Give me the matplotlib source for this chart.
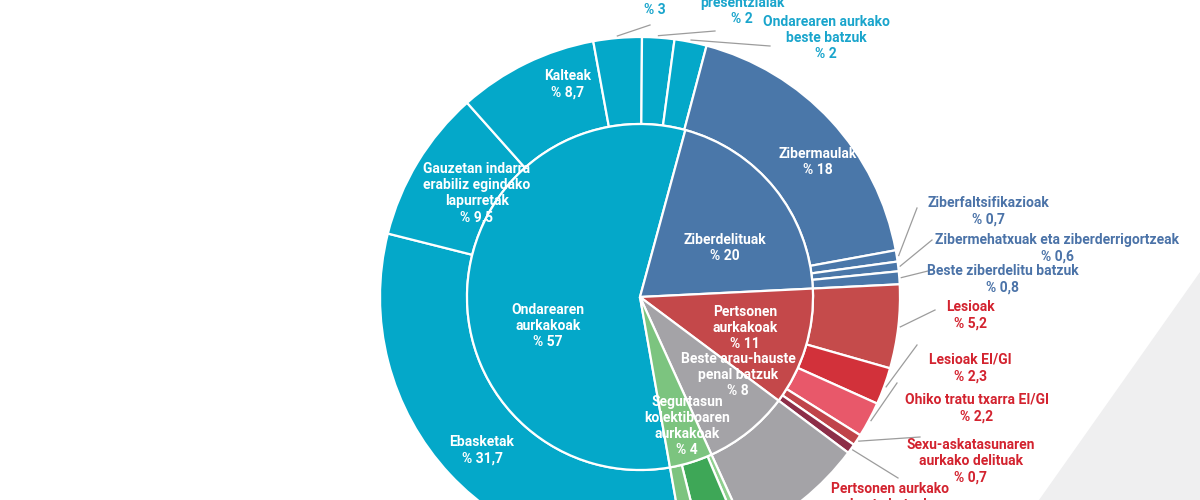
import numpy as np
import matplotlib
matplotlib.use("Agg")
import matplotlib.pyplot as plt
from matplotlib.patches import Polygon

plt.rcParams['font.family'] = ['Roboto', 'DejaVu Sans']

# inner ring (groups)
groups = ['Ondarearen\naurkakoak', 'Ziberdelituak', 'Pertsonen\naurkakoak',
          'Beste arau-hauste\npenal batzuk', 'Segurtasun\nkolektiboaren\naurkakoak']
group_vals = [57, 20, 11, 8, 4]
group_colors = ['#04a8c9', '#4a77a9', '#c4484a', '#a4a3a7', '#7cc47f']

# outer ring (sub categories), same order as groups
sub_names = ['Ebasketak', 'Gauzetan indarra\nerabiliz egindako\nlapurretak', 'Kalteak', '', 'presentzialak',
             'Ondarearen aurkako\nbeste batzuk',
             'Zibermaulak', 'Ziberfaltsifikazioak', 'Zibermehatxuak eta ziberderrigortzeak',
             'Beste ziberdelitu batzuk',
             'Lesioak', 'Lesioak EI/GI', 'Ohiko tratu txarra EI/GI',
             'Sexu-askatasunaren\naurkako delituak', 'Pertsonen aurkako\nbeste batzuk',
             'Beste arau-hauste penal batzuk',
             'seg1', 'seg2', 'seg3']
sub_vals = [31.7, 9.5, 8.7, 3, 2, 2,
            18, 0.7, 0.6, 0.8,
            5.2, 2.3, 2.2, 0.7, 0.6,
            8,
            0.4, 2.5, 1.1]
sub_colors = ['#04a8c9'] * 6 + ['#4a77a9'] * 4 + \
             ['#c54b4b', '#d2313a', '#e8586a', '#c0444a', '#8d2e48'] + \
             ['#a4a3a7'] + ['#8fd08f', '#3ea757', '#7cc47f']

W, H = 1200, 500
CX, CY = 640, 297          # centre in picture pixels (y down)
R_OUT, R_IN = 260, 173
START = -80

fig = plt.figure(figsize=(12, 5), dpi=100)
ax = fig.add_axes([0, 0, 1, 1])

# light grey corner shape in the background
ax.add_patch(Polygon([(1200, H - 272), (1200, 0), (1039, 0)], closed=True,
                     facecolor='#efeff0', edgecolor='none', zorder=0))

outer, _ = ax.pie(sub_vals, radius=R_OUT, center=(CX, H - CY), colors=sub_colors,
                  startangle=START, counterclock=False,
                  wedgeprops=dict(width=R_OUT - R_IN, edgecolor='white', linewidth=1.6))
inner, _ = ax.pie(group_vals, radius=R_IN, center=(CX, H - CY), colors=group_colors,
                  startangle=START, counterclock=False,
                  wedgeprops=dict(edgecolor='white', linewidth=1.6))
for w in outer:
    w.set_zorder(2)
for w in inner:
    w.set_zorder(2)

ax.set_xlim(0, W)
ax.set_ylim(0, H)
ax.set_aspect('equal')
ax.axis('off')


def txt(x, y, s, color='white', size=10):
    ax.text(x, H - y, s, ha='center', va='center', color=color, fontsize=size,
            fontweight='bold', linespacing=1.2, zorder=5)


# labels inside the wedges
txt(548, 326, 'Ondarearen\naurkakoak\n% 57')
txt(725, 248, 'Ziberdelituak\n% 20')
txt(745, 328, 'Pertsonen\naurkakoak\n% 11')
txt(738, 375, 'Beste arau-hauste\npenal batzuk\n% 8')
txt(687, 426, 'Segurtasun\nkolektiboaren\naurkakoak\n% 4')
txt(568, 84, 'Kalteak\n% 8,7')
txt(477, 193, 'Gauzetan indarra\nerabiliz egindako\nlapurretak\n% 9,5')
txt(482, 450, 'Ebasketak\n% 31,7')
txt(818, 162, 'Zibermaulak\n% 18')

CYAN, BLUE, RED = '#1aa5cc', '#4b73a8', '#d3232f'

# outside labels: (wedge index, label text, label centre, leader end, colour)
outside = [
    (3, '% 3', (655, 10), (650, 25), CYAN),
    (4, 'presentzialak\n% 2', (742, 11), (715, 31), CYAN),
    (5, 'Ondarearen aurkako\nbeste batzuk\n% 2', (826, 38), (770, 46), CYAN),
    (7, 'Ziberfaltsifikazioak\n% 0,7', (988, 211), (917, 208), BLUE),
    (8, 'Zibermehatxuak eta ziberderrigortzeak\n% 0,6', (1057, 248), (932, 240), BLUE),
    (9, 'Beste ziberdelitu batzuk\n% 0,8', (1003, 279), (932, 270), BLUE),
    (10, 'Lesioak\n% 5,2', (970, 315), (935, 310), RED),
    (11, 'Lesioak EI/GI\n% 2,3', (970, 368), (917, 345), RED),
    (12, 'Ohiko tratu txarra EI/GI\n% 2,2', (977, 408), (897, 383), RED),
    (13, 'Sexu-askatasunaren\naurkako delituak\n% 0,7', (971, 461), (920, 437), RED),
    (14, 'Pertsonen aurkako\nbeste batzuk', (890, 497), (898, 478), RED),
]
for idx, label, (lx, ly), (ex, ey), col in outside:
    w = outer[idx]
    mid = np.deg2rad((w.theta1 + w.theta2) / 2)
    sx = CX + (R_OUT + 2) * np.cos(mid)
    sy = (H - CY) + (R_OUT + 2) * np.sin(mid)
    ax.plot([sx, ex], [sy, H - ey], color='#9c9c9c', lw=0.9, zorder=3)
    txt(lx, ly, label, color=col)

fig.savefig('out.png', dpi=100)
